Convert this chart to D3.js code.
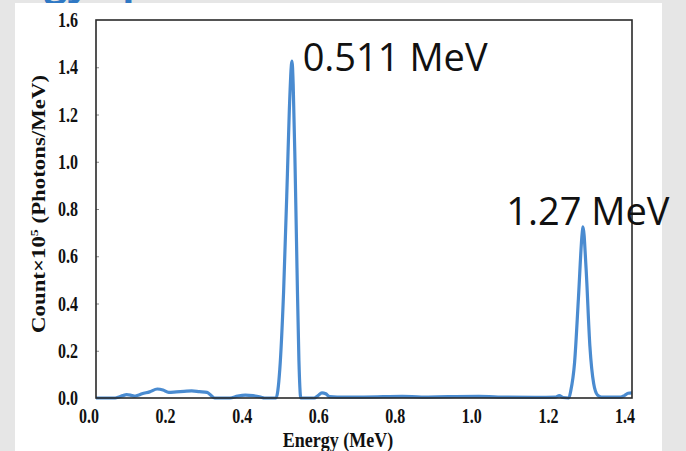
<!DOCTYPE html>
<html>
<head>
<meta charset="utf-8">
<script src="https://cdn.jsdelivr.net/npm/d3@7"></script>
<style>
  html, body { margin: 0; padding: 0; background: #e6e6e6; }
  svg { display: block; }
</style>
</head>
<body>
<svg id="chart" width="686" height="451"></svg>
<script>
// Gamma spectrum: energy (MeV) and count (×10^5 photons/MeV)
const energy = [
  0.00, 0.05, 0.06, 0.07, 0.08, 0.09, 0.10, 0.11, 0.12, 0.14, 0.16, 0.175, 0.19,
  0.21, 0.23, 0.25, 0.27, 0.29, 0.30, 0.31, 0.35, 0.37, 0.39, 0.41, 0.43, 0.44,
  0.47, 0.48, 0.49, 0.50, 0.505, 0.512, 0.515, 0.52, 0.525, 0.53, 0.535,
  0.57, 0.58, 0.59, 0.60, 0.61, 0.63, 0.70, 0.80, 0.85, 0.92, 1.00, 1.05, 1.15,
  1.20, 1.21, 1.22, 1.235, 1.24, 1.25, 1.26, 1.27, 1.272, 1.28, 1.29, 1.30, 1.31,
  1.32, 1.37, 1.38, 1.39, 1.40
];
const counts = [
  0.000, 0.000, 0.004, 0.010, 0.014, 0.012, 0.008, 0.012, 0.018, 0.026, 0.038, 0.034, 0.024,
  0.026, 0.028, 0.030, 0.027, 0.024, 0.012, 0.000, 0.000, 0.008, 0.012, 0.010, 0.004, 0.000,
  0.000, 0.120, 0.450, 0.950, 1.220, 1.426, 1.330, 0.980, 0.550, 0.160, 0.000,
  0.000, 0.010, 0.022, 0.018, 0.006, 0.004, 0.004, 0.007, 0.004, 0.006, 0.007, 0.004, 0.003,
  0.004, 0.010, 0.002, 0.000, 0.030, 0.150, 0.420, 0.700, 0.724, 0.550, 0.220, 0.060, 0.012,
  0.004, 0.004, 0.010, 0.020, 0.022
];

const xTickValues = [0.0, 0.2, 0.4, 0.6, 0.8, 1.0, 1.2, 1.4];
const yTickValues = [0.0, 0.2, 0.4, 0.6, 0.8, 1.0, 1.2, 1.4, 1.6];
const peakEnergies = [0.511, 1.27];
const peakCounts = [1.426, 0.724];
const peakLabels = ["0.511 MeV", "1.27 MeV"];

const xTitle = "Energy (MeV)";
const yTitleMain = "Count\u00d710";
const yTitleSup = "5";
const yTitleTail = " (Photons/MeV)";
const slideTitle = "Energy Spectrum";

const svg = d3.select("#chart");

const plot = { left: 96, right: 632, top: 20, bottom: 398 };
const x = d3.scaleLinear().domain([0, 1.4]).range([plot.left, plot.right]);
const y = d3.scaleLinear().domain([0, 1.6]).range([plot.bottom, plot.top]);

// slide heading, mostly hidden under the white panel
svg.append("text")
  .attr("x", -46).attr("y", -4)
  .attr("font-family", "Open Sans, sans-serif")
  .attr("font-weight", "bold")
  .attr("font-size", 40)
  .attr("fill", "#2f78c4")
  .text(slideTitle);

// white panel
svg.append("rect")
  .attr("x", 15).attr("y", 3)
  .attr("width", 647).attr("height", 448)
  .attr("fill", "#ffffff");

const serif = "'Liberation Serif', 'Times New Roman', serif";

// y tick labels
svg.append("g").selectAll("text")
  .data(yTickValues)
  .join("text")
  .attr("transform", d => `translate(78,${y(d)}) scale(1,1.25)`)
  .attr("dy", "0.35em")
  .attr("text-anchor", "end")
  .attr("font-family", serif)
  .attr("font-weight", "bold")
  .attr("font-size", 16)
  .attr("fill", "#111")
  .text(d => d.toFixed(1));

// x tick labels
svg.append("g").selectAll("text")
  .data(xTickValues)
  .join("text")
  .attr("transform", d => `translate(${x(d) - 7},423) scale(1,1.25)`)
  .attr("text-anchor", "middle")
  .attr("font-family", serif)
  .attr("font-weight", "bold")
  .attr("font-size", 16)
  .attr("fill", "#111")
  .text(d => d.toFixed(1));

// inner y ticks
const yAxis = d3.axisLeft(y).tickValues(yTickValues.slice(1, -1)).tickSize(-3).tickFormat("");
const yg = svg.append("g").attr("transform", `translate(${plot.left},0)`).call(yAxis);
yg.select(".domain").remove();
yg.selectAll("line").attr("stroke", "#888").attr("stroke-width", 1);

// axis titles
svg.append("text")
  .attr("transform", `translate(338,447) scale(1,1.2)`)
  .attr("text-anchor", "middle")
  .attr("font-family", serif)
  .attr("font-weight", "bold")
  .attr("font-size", 18)
  .attr("fill", "#111")
  .text(xTitle);

const yt = svg.append("text")
  .attr("transform", `translate(45,204) rotate(-90) scale(1.27,1)`)
  .attr("text-anchor", "middle")
  .attr("font-family", serif)
  .attr("font-weight", "bold")
  .attr("font-size", 18)
  .attr("fill", "#111");
yt.append("tspan").text(yTitleMain);
yt.append("tspan").attr("font-size", 11).attr("dy", -7).text(yTitleSup);
yt.append("tspan").attr("dy", 7).text(yTitleTail);

// spectrum line
const pts = energy.map((e, i) => [e, counts[i]]);
const line = d3.line()
  .x(d => x(d[0]))
  .y(d => y(d[1]))
  .curve(d3.curveMonotoneX);

svg.append("path")
  .datum(pts)
  .attr("d", line)
  .attr("fill", "none")
  .attr("stroke", "#4a8bd0")
  .attr("stroke-width", 3.2)
  .attr("stroke-linejoin", "round");

// plot frame
svg.append("rect")
  .attr("x", plot.left).attr("y", plot.top)
  .attr("width", plot.right - plot.left).attr("height", plot.bottom - plot.top)
  .attr("fill", "none")
  .attr("stroke", "#2a2a2a")
  .attr("stroke-width", 1.6);

// peak annotations
const labelOffsets = [[11, 10], [-76, -2]];
svg.append("g").selectAll("text")
  .data(peakLabels)
  .join("text")
  .attr("x", (d, i) => x(peakEnergies[i]) + labelOffsets[i][0])
  .attr("y", (d, i) => y(peakCounts[i]) + labelOffsets[i][1])
  .attr("font-family", "'Open Sans', 'Noto Sans', sans-serif")
  .attr("font-size", 38)
  .attr("fill", "#111")
  .text(d => d);
</script>
</body>
</html>
